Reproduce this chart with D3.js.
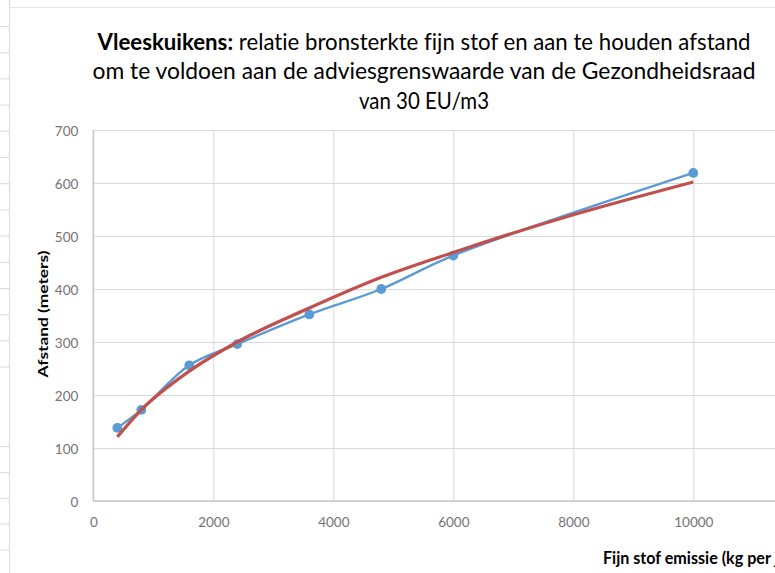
<!DOCTYPE html>
<html>
<head>
<meta charset="utf-8">
<script src="https://cdn.jsdelivr.net/npm/d3@7"></script>
<style>
  html, body { margin: 0; padding: 0; background: #fff; overflow: hidden; }
  svg { display: block; }
  text { font-variant-ligatures: none; font-feature-settings: "liga" 0, "clig" 0; }
</style>
</head>
<body>
<svg id="chart" width="775" height="573"></svg>
<script>
// ---- data ----
const emissie = [400, 800, 1600, 2400, 3600, 4800, 6000, 10000];   // kg per jaar
const afstand = [138, 172, 256, 296, 352, 400, 463, 619];           // meters
const trendX  = [400, 800, 1600, 2400, 3600, 4800, 6000, 8000, 10000];
const trendY  = [121, 172, 245, 300, 364, 422, 469, 540, 602];
const xTicks  = [0, 2000, 4000, 6000, 8000, 10000];
const yTicks  = [0, 100, 200, 300, 400, 500, 600, 700];
const titleLines = [
  {bold: "Vleeskuikens:", rest: " relatie bronsterkte fijn stof en aan te houden afstand"},
  {bold: "", rest: "om te voldoen aan de adviesgrenswaarde van de Gezondheidsraad"},
  {bold: "", rest: "van 30 EU/m3"}
];
const yTitle = "Afstand (meters)";
const xTitle = "Fijn stof emissie (kg per jaar)";

// ---- layout ----
const svg = d3.select("#chart");
const FONT = "Lato, 'Open Sans', 'Liberation Sans', sans-serif";
const plot = {left: 93.3, top: 130, bottom: 501};
const x = d3.scaleLinear().domain([0, 12000]).range([plot.left, plot.left + 720]);
const y = d3.scaleLinear().domain([0, 700]).range([plot.bottom, plot.top]);

// spreadsheet background (row lines left of the chart and chart border)
const rowLines = d3.range(14).map(k => 26.5 + 26.2 * k).concat([446.7, 472.7, 498.3, 524, 550]);
svg.append("g").selectAll("line").data(rowLines).join("line")
  .attr("x1", 0).attr("x2", 9.5).attr("y1", d => d).attr("y2", d => d)
  .attr("stroke", "#dadada").attr("stroke-width", 1);
svg.append("line").attr("x1", 9.5).attr("x2", 9.5).attr("y1", 0).attr("y2", 573)
  .attr("stroke", "#d9d9d9").attr("stroke-width", 1);
svg.append("line").attr("x1", 9.5).attr("x2", 775).attr("y1", 7.5).attr("y2", 7.5)
  .attr("stroke", "#e6e6e6").attr("stroke-width", 1);

// gridlines
const grid = svg.append("g");
grid.append("g")
  .attr("transform", `translate(0,${plot.bottom})`)
  .call(d3.axisBottom(x).tickValues(xTicks.concat([12000])).tickSize(-(plot.bottom - plot.top)).tickFormat(""))
  .call(g => g.select(".domain").remove())
  .call(g => g.selectAll("line").attr("stroke", "#d9d9d9").attr("stroke-width", 1));
grid.append("g")
  .attr("transform", `translate(${plot.left},0)`)
  .call(d3.axisLeft(y).tickValues(yTicks).tickSize(-720).tickFormat(""))
  .call(g => g.select(".domain").remove())
  .call(g => g.selectAll("line").attr("stroke", "#d9d9d9").attr("stroke-width", 1));

// axis lines
svg.append("line").attr("x1", plot.left).attr("x2", plot.left).attr("y1", plot.top).attr("y2", plot.bottom)
  .attr("stroke", "#c8c8c8").attr("stroke-width", 1.5);
svg.append("line").attr("x1", plot.left).attr("x2", 775).attr("y1", plot.bottom).attr("y2", plot.bottom)
  .attr("stroke", "#c8c8c8").attr("stroke-width", 1.5);

// tick labels
const xAxis = svg.append("g")
  .attr("transform", `translate(0,${plot.bottom})`)
  .call(d3.axisBottom(x).tickValues(xTicks).tickSize(0).tickPadding(0).tickFormat(d3.format("d")));
xAxis.select(".domain").remove();
xAxis.selectAll("text").attr("y", 25.5).attr("dy", 0)
  .attr("font-family", FONT).attr("font-size", "13.5px").attr("fill", "#737373");

const yAxis = svg.append("g")
  .attr("transform", `translate(${plot.left},0)`)
  .call(d3.axisLeft(y).tickValues(yTicks).tickSize(0).tickPadding(0).tickFormat(d3.format("d")));
yAxis.select(".domain").remove();
yAxis.selectAll("text").attr("x", -15).attr("dy", "0.38em")
  .attr("font-family", FONT).attr("font-size", "13.5px").attr("fill", "#737373");

// series: blue smoothed line with markers
const line = d3.line().x(d => x(d[0])).y(d => y(d[1])).curve(d3.curveCatmullRom.alpha(0.5));
const blueData = emissie.map((e, i) => [e, afstand[i]]);
svg.append("path").datum(blueData).attr("d", line)
  .attr("fill", "none").attr("stroke", "#5b9bd5").attr("stroke-width", 2.4)
  .attr("stroke-linejoin", "round").attr("stroke-linecap", "round");
svg.append("g").selectAll("circle").data(blueData).join("circle")
  .attr("cx", d => x(d[0])).attr("cy", d => y(d[1])).attr("r", 4.9)
  .attr("fill", "#5b9bd5");

// red trend line
const redData = trendX.map((e, i) => [e, trendY[i]]);
svg.append("path").datum(redData)
  .attr("d", d3.line().x(d => x(d[0])).y(d => y(d[1])).curve(d3.curveMonotoneX))
  .attr("fill", "none").attr("stroke", "#c0504d").attr("stroke-width", 3.2)
  .attr("stroke-linecap", "butt");

// title
const titleBase = [49.5, 79, 108.5];
const titleWidth = [653, 663, 130];
const titleCx = 424;
titleLines.forEach((l, i) => {
  const t = svg.append("text")
    .attr("x", titleCx).attr("y", titleBase[i])
    .attr("text-anchor", "middle")
    .attr("font-family", FONT).attr("font-size", "23px").attr("fill", "#000")
    .attr("textLength", titleWidth[i]).attr("lengthAdjust", "spacingAndGlyphs");
  if (l.bold) t.append("tspan").attr("font-weight", "bold").text(l.bold);
  t.append("tspan").text(l.rest);
});

// y axis title
svg.append("text")
  .attr("transform", "translate(48,314) rotate(-90)")
  .attr("text-anchor", "middle")
  .attr("font-family", FONT).attr("font-size", "13.5px").attr("font-weight", "bold").attr("fill", "#000")
  .attr("textLength", 127).attr("lengthAdjust", "spacingAndGlyphs")
  .text(yTitle);

// x axis title (cut off by the right edge like the reference)
const xt = svg.append("text")
  .attr("x", 603).attr("y", 564)
  .attr("font-family", FONT).attr("font-weight", "bold").attr("fill", "#000")
  .attr("font-size", "13.5px");
// fit size so that "Fijn stof emissie (kg per" spans ~168px
const probe = svg.append("text").attr("font-family", FONT).attr("font-weight", "bold")
  .attr("font-size", "13.5px").text("Fijn stof emissie (kg per");
const w = probe.node().getComputedTextLength();
probe.remove();
xt.attr("font-size", (13.5 * 168 / w).toFixed(2) + "px").text(xTitle);
</script>
</body>
</html>
